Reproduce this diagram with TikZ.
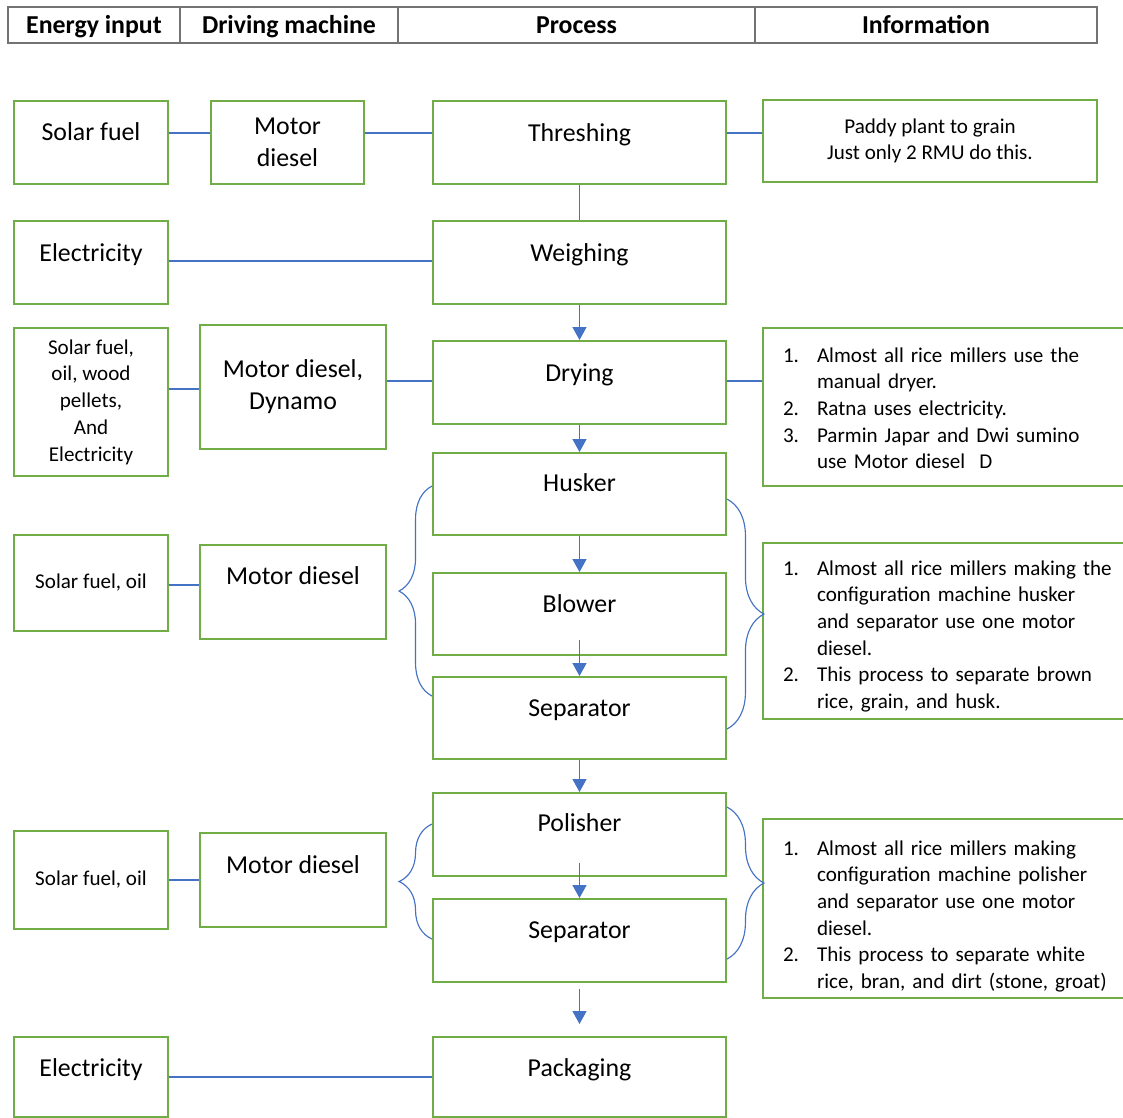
\documentclass[tikz,border=0pt]{standalone}
\usepackage{fontspec}
\setmainfont{Carlito}
\usetikzlibrary{arrows.meta,calc,decorations.pathreplacing}
\newcommand{\numitem}[1]{\makebox[0.68cm][l]{#1}}
\newcommand{\contline}{\hspace*{0.68cm}}
\tikzset{
  box/.style={draw={rgb,255:red,112;green,173;blue,71}, line width=1.1pt, align=center, font=\fontsize{14.7}{18.1}\selectfont},
  wh/.style 2 args={minimum width=#1*0.02cm, minimum height=#2*0.02cm},
  lift/.style={text height=0.34cm, text depth=#1},
  smalltext/.style={font=\fontsize{12}{15.2}\selectfont},
  info/.style={box, smalltext, align=left, text width=6.7cm, inner xsep=0.4cm, text height=0.3cm, text depth=#1},
  hdr/.style={draw=black!55, line width=0.8pt, minimum height=0.68cm, text height=0.4cm, text depth=0.08cm, font=\fontsize{14.7}{18}\selectfont\bfseries},
  link/.style={draw={rgb,255:red,68;green,114;blue,196}, line width=0.65pt},
  arr/.style={link, -{Triangle[length=0.26cm,width=0.28cm,fill={rgb,255:red,68;green,114;blue,196}]}},
  brc/.style={link, decorate, decoration={brace, amplitude=#1}}
}
\begin{document}
\begin{tikzpicture}[x=0.02cm,y=-0.02cm]
\useasboundingbox (0,0) rectangle (1123,1117);
\node[hdr, minimum width=3.44cm] (hEnergy) at (94,25) {Energy input};
\node[hdr, minimum width=4.36cm] (hDriving) at (289,25) {Driving machine};
\node[hdr, minimum width=7.14cm] (hProcess) at (576.5,25) {Process};
\node[hdr, minimum width=6.84cm] (hInfo) at (926,25) {Information};

\node[box, wh={154}{83}, lift=0.42cm] (solar) at (91,142.5) {Solar fuel};
\node[box, wh={153}{83}] (motor) at (287.5,142.5) {Motor\\diesel};
\node[box, wh={293}{83}, lift=0.38cm] (thresh) at (579.5,142.5) {Threshing};
\node[box, smalltext, wh={334}{82}] (infoThresh) at (930,141) {Paddy plant to grain\\Just only 2 RMU do this.};

\node[box, wh={154}{83}, lift=0.38cm] (elecA) at (91,262.5) {Electricity};
\node[box, wh={293}{83}, lift=0.38cm] (weigh) at (579.5,262.5) {Weighing};

\node[box, smalltext, wh={154}{148}] (mixfuel) at (91,402) {Solar fuel,\\oil, wood\\pellets,\\And\\Electricity};
\node[box, wh={186}{124}] (motorDyn) at (293,387) {Motor diesel,\\Dynamo};
\node[box, wh={293}{83}, lift=0.38cm] (dry) at (579.5,382.5) {Drying};
\node[info=2.1cm, minimum height=3.16cm] (infoDry) at (950.5,407) {\numitem{1.}Almost all rice millers use the\\\contline manual dryer.\\\numitem{2.}Ratna uses electricity.\\\numitem{3.}Parmin Japar and Dwi sumino\\\contline use Motor diesel\ \ D};

\node[box, wh={293}{82}, lift=0.44cm] (husker) at (579.5,494) {Husker};
\node[box, wh={293}{82}, lift=0.40cm] (blower) at (579.5,614) {Blower};
\node[box, wh={293}{82}, lift=0.40cm] (sepA) at (579.5,718) {Separator};
\node[box, smalltext, wh={154}{96}] (oilA) at (91,583) {Solar fuel, oil};
\node[box, wh={186}{94}, lift=0.66cm] (motorA) at (293,592) {Motor diesel};
\node[info=2.54cm, minimum height=3.52cm] (infoHusk) at (950.5,631) {\numitem{1.}Almost all rice millers making the\\\contline configuration machine husker\\\contline and separator use one motor\\\contline diesel.\\\numitem{2.}This process to separate brown\\\contline rice, grain, and husk.};

\node[box, wh={293}{83}, lift=0.46cm] (polisher) at (579.5,834.5) {Polisher};
\node[box, wh={293}{83}, lift=0.42cm] (sepB) at (579.5,940.5) {Separator};
\node[box, smalltext, wh={154}{98}] (oilB) at (91,880) {Solar fuel, oil};
\node[box, wh={186}{94}, lift=0.60cm] (motorB) at (293,880) {Motor diesel};
\node[info=2.44cm, minimum height=3.58cm] (infoPolish) at (950.5,908.5) {\numitem{1.}Almost all rice millers making\\\contline configuration machine polisher\\\contline and separator use one motor\\\contline diesel.\\\numitem{2.}This process to separate white\\\contline rice, bran, and dirt (stone, groat)};

\node[box, wh={154}{80}, lift=0.36cm] (elecB) at (91,1077) {Electricity};
\node[box, wh={293}{80}, lift=0.36cm] (pack) at (579.5,1077) {Packaging};

\draw[link] (solar.east |- 0,133) -- (motor.west |- 0,133);
\draw[link] (motor.east |- 0,133) -- (thresh.west |- 0,133);
\draw[link] (thresh.east |- 0,133) -- (infoThresh.west |- 0,133);
\draw[link] (thresh.south) -- (weigh.north);
\draw[link] (elecA.east |- 0,261) -- (weigh.west |- 0,261);
\draw[link] (mixfuel.east |- 0,389) -- (motorDyn.west |- 0,389);
\draw[link] (motorDyn.east |- 0,381) -- (dry.west |- 0,381);
\draw[link] (dry.east |- 0,381) -- (infoDry.west |- 0,381);
\draw[link] (oilA.east |- 0,585) -- (motorA.west |- 0,585);
\draw[link] (oilB.east |- 0,880) -- (motorB.west |- 0,880);
\draw[link] (elecB.east |- 0,1077) -- (pack.west |- 0,1077);

\draw[arr] (weigh.south) -- (dry.north);
\draw[arr] (dry.south) -- (husker.north);
\draw[arr] (husker.south) -- (blower.north);
\draw[arr] ($(blower.south)+(0,-16)$) -- (sepA.north);
\draw[arr] (sepA.south) -- (polisher.north);
\draw[arr] ($(polisher.south)+(0,-14)$) -- (sepB.north);
\draw[arr] ($(sepB.south)+(0,6)$) -- ($(pack.north)+(0,-12)$);

\draw[brc=0.66cm] ($(sepA.north west)+(0,20)$) -- ($(husker.north west)+(0,34)$);
\draw[brc=0.74cm] ($(husker.north east)+(0,47)$) -- ($(sepA.north east)+(0,53)$);
\draw[brc=0.66cm] ($(sepB.north west)+(0,41)$) -- ($(polisher.north west)+(0,32)$);
\draw[brc=0.74cm] ($(polisher.north east)+(0,15)$) -- ($(sepB.north east)+(0,61)$);
\end{tikzpicture}
\end{document}
